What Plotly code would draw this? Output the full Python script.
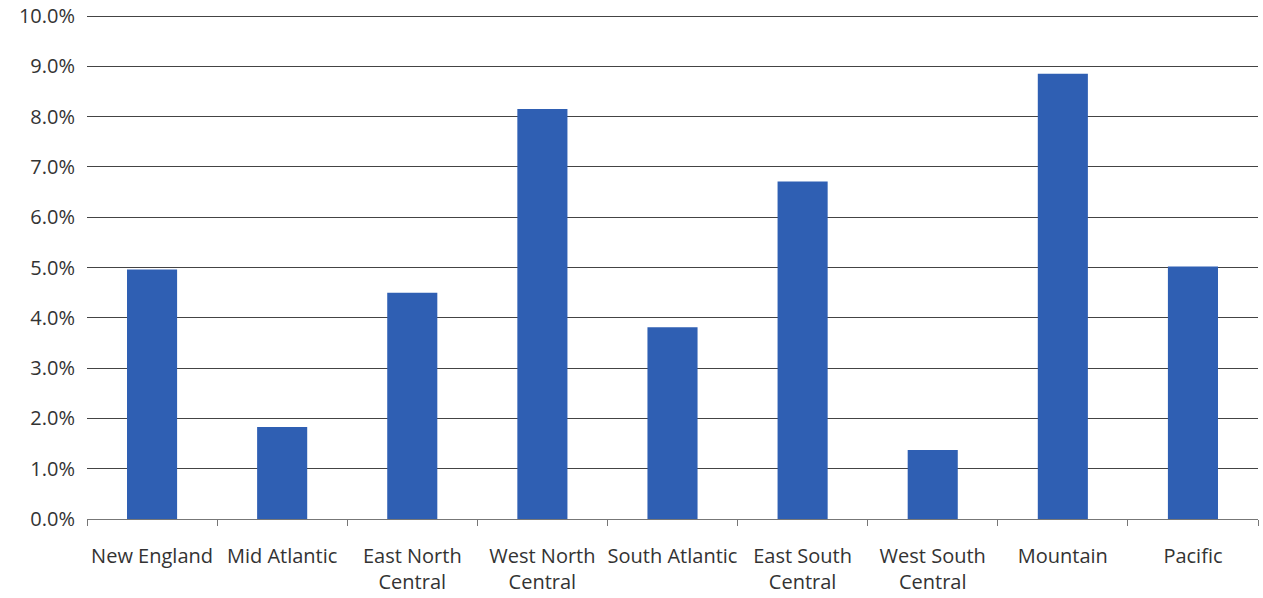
import plotly.graph_objects as go

regions = ["New England", "Mid Atlantic", "East North<br>Central", "West North<br>Central",
           "South Atlantic", "East South<br>Central", "West South<br>Central", "Mountain", "Pacific"]
values = [4.96, 1.83, 4.50, 8.15, 3.81, 6.71, 1.37, 8.85, 5.02]
y_ticks = [0, 1, 2, 3, 4, 5, 6, 7, 8, 9, 10]
y_tick_labels = ["0.0%", "1.0%", "2.0%", "3.0%", "4.0%", "5.0%", "6.0%", "7.0%", "8.0%", "9.0%", "10.0%"]

fig = go.Figure(go.Bar(x=regions, y=values, marker_color="#2f5fb3", marker_line_width=0, width=0.385))

fig.update_layout(
    width=1263, height=598,
    margin=dict(l=87, r=5, t=15, b=79),
    paper_bgcolor="white", plot_bgcolor="white",
    font=dict(family="Open Sans", size=20, color="#333333"),
    showlegend=False,
)
fig.update_xaxes(
    type="category", showline=True, linecolor="#777777", linewidth=1,
    ticks="outside", tickson="boundaries", ticklen=6, tickcolor="#777777",
    showgrid=False, tickfont=dict(size=20), ticklabelstandoff=19,
    tickangle=0, automargin=False,
)
fig.update_yaxes(
    range=[0, 10.02], tickvals=y_ticks, ticktext=y_tick_labels,
    showgrid=True, gridcolor="#444444", gridwidth=1, zeroline=False,
    ticks="", ticklabelstandoff=11, tickfont=dict(size=20), automargin=False,
)
fig.write_html("out.html")
